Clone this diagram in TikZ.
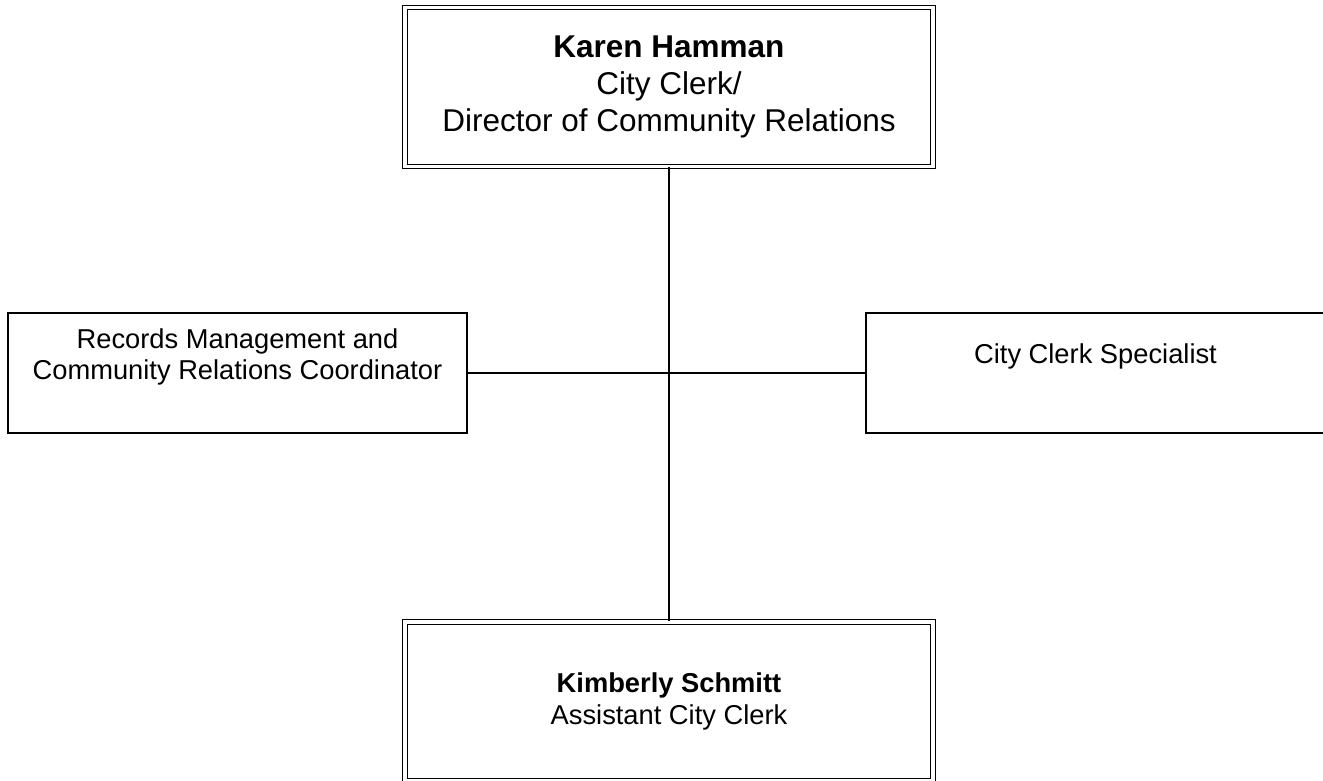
\documentclass[tikz,border=0pt]{standalone}
\usepackage{fontspec}
\setmainfont{Liberation Sans}
\begin{document}
\begin{tikzpicture}[x=1pt,y=-1pt,
  dbox/.style={draw, double, double distance=3.4pt, line width=1.1pt, inner sep=0pt, align=center, minimum width=528pt, minimum height=159pt},
  sbox/.style={draw, line width=1.3pt, inner sep=0pt, align=center, minimum width=459pt, minimum height=120pt},
  conn/.style={line width=1.3pt}]
\fill[white] (0,0) rectangle (1323,780);
\useasboundingbox (0,0) rectangle (1323,780);
\node[dbox, font=\fontsize{31.5}{37}\selectfont] (top) at (669,87) {\textbf{Karen Hamman}\\City Clerk/\\Director of Community Relations};
\node[dbox, font=\fontsize{27.3}{31.5}\selectfont] (bottom) at (669,701.5) {\textbf{Kimberly Schmitt}\\Assistant City Clerk};
\node[sbox, font=\fontsize{27.3}{31}\selectfont] (left) at (237.5,373) {\strut Records Management and\\\strut Community Relations Coordinator\\\strut};
\node[sbox, font=\fontsize{27.3}{31}\selectfont] (right) at (1095.5,373) {\strut City Clerk Specialist\\\strut};
\draw[conn] (top.south) -- (bottom.north);
\draw[conn] (left.east) -- (right.west);
\end{tikzpicture}
\end{document}
